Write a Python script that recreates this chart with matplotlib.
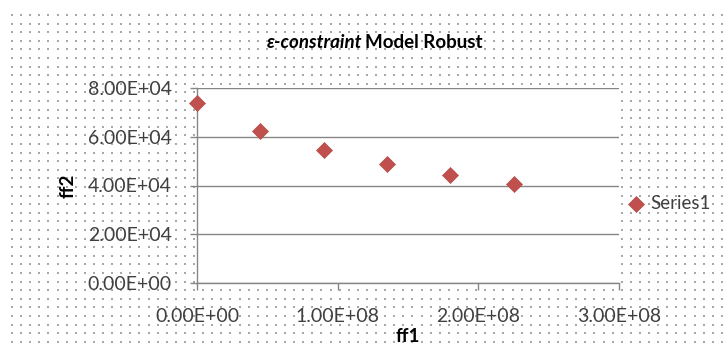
import numpy as np
import matplotlib
matplotlib.use('Agg')
import matplotlib.pyplot as plt

plt.rcParams['font.family'] = ['Lato', 'DejaVu Sans']

# f1 / f2 pairs from the robust e-constraint runs
ff1 = [0.0, 4.5e7, 9.0e7, 1.35e8, 1.8e8, 2.25e8]
ff2 = [7.38e4, 6.25e4, 5.46e4, 4.87e4, 4.44e4, 4.05e4]

xticks = [0, 1e8, 2e8, 3e8]
yticks = [0, 2e4, 4e4, 6e4, 8e4]

W, H = 728, 344
fig = plt.figure(figsize=(W / 100, H / 100), dpi=100)
fig.patch.set_facecolor('white')

# dotted chart-area fill
bg = fig.add_axes([0, 0, 1, 1], zorder=0)
bg.set_xlim(0, W)
bg.set_ylim(H, 0)
bg.axis('off')
gx, gy = np.meshgrid(np.arange(12, W, 9.1), np.arange(15, H, 8.6))
bg.scatter(gx.ravel(), gy.ravel(), s=2.6, c='#a8a8a8', marker='s', linewidths=0)

ax = fig.add_axes([197 / W, 1 - 283 / H, 422 / W, 195 / H], zorder=1)
ax.set_facecolor('white')
ax.scatter(ff1, ff2, marker='D', s=66, color='#c0504d', edgecolors='#b54a47',
           linewidths=0.5, zorder=3, clip_on=False, label='Series1')

ax.set_xlim(0, 3e8)
ax.set_ylim(0, 8e4)
ax.set_xticks(xticks)
ax.set_yticks(yticks)
ax.set_xticklabels(['%.2E' % v for v in xticks])
ax.set_yticklabels(['%.2E' % v for v in yticks])
ax.tick_params(axis='both', labelsize=14, colors='#868686', labelcolor='#404040',
               length=5, width=1, direction='out')
ax.tick_params(axis='x', pad=13)
ax.tick_params(axis='y', pad=13)
ax.grid(axis='y', color='#868686', linewidth=1)
ax.set_axisbelow(True)
for side in ['top', 'right']:
    ax.spines[side].set_visible(False)
for side in ['left', 'bottom']:
    ax.spines[side].set_color('#868686')
    ax.spines[side].set_linewidth(1)

ax.set_xlabel('ff1', fontsize=13.5, fontweight='bold', labelpad=2)
ax.set_ylabel('ff2', fontsize=13.5, fontweight='bold', labelpad=8)

fig.text(362 / W, 1 - 42 / H, '\u03b5-constraint', ha='right', va='center',
         fontsize=13.5, fontweight='bold', style='italic')
fig.text(365 / W, 1 - 42 / H, 'Model Robust', ha='left', va='center',
         fontsize=13.5, fontweight='bold')

leg = ax.legend(loc='center left', bbox_to_anchor=(1.0, 0.41), frameon=False,
                fontsize=13.5, handletextpad=0.25, borderaxespad=0,
                handlelength=1.0)
for t in leg.get_texts():
    t.set_color('#404040')

fig.savefig('out.png', dpi=100)
